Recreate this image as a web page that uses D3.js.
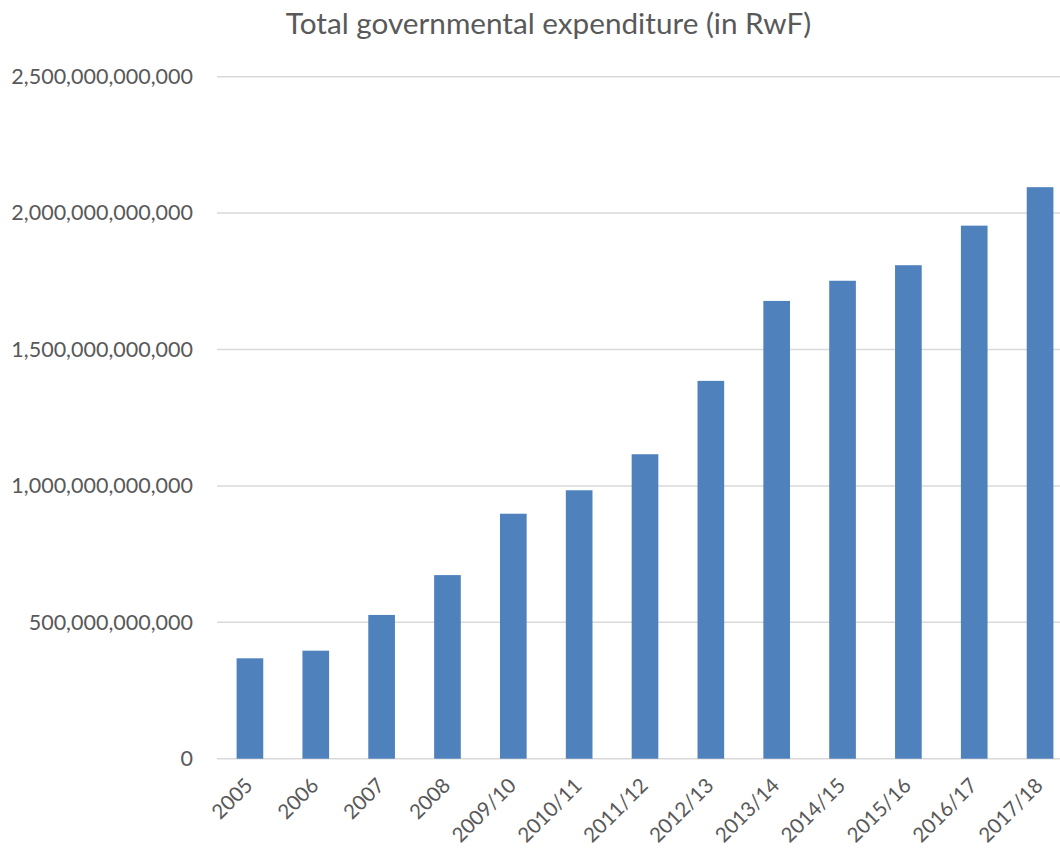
<!DOCTYPE html>
<html>
<head>
<meta charset="utf-8">
<script src="https://cdn.jsdelivr.net/npm/d3@7"></script>
<style>
  html, body { margin: 0; padding: 0; background: #fff; }
  svg { display: block; }
  text { font-family: Lato, "Open Sans", sans-serif; fill: #595959; }
</style>
</head>
<body>
<svg id="chart" width="1060" height="848"></svg>
<script>
const categories = ["2005","2006","2007","2008","2009/10","2010/11","2011/12","2012/13","2013/14","2014/15","2015/16","2016/17","2017/18"];
const expenditure = [368e9, 396e9, 527e9, 673e9, 898e9, 984e9, 1116e9, 1385e9, 1678e9, 1752e9, 1809e9, 1954e9, 2095e9];
const yTicks = [0, 500e9, 1000e9, 1500e9, 2000e9, 2500e9];
const title = "Total governmental expenditure (in RwF)";

(function () {
const svg = d3.select("#chart");
const plotLeft = 217, plotRight = 1073, plotTop = 76.7, plotBottom = 758.7;

const x = d3.scaleBand().domain(categories).range([plotLeft, plotRight]).paddingInner(0.595).paddingOuter(0.2975);
const y = d3.scaleLinear().domain([0, 2500e9]).range([plotBottom, plotTop]);

// gridlines
svg.append("g").selectAll("line").data(yTicks).join("line")
  .attr("x1", plotLeft).attr("x2", 1060)
  .attr("y1", d => y(d)).attr("y2", d => y(d))
  .attr("stroke", "#d9d9d9").attr("stroke-width", 1.5);

// y axis labels
const fmt = d3.format(",.0f");
const yAxis = d3.axisLeft(y).tickValues(yTicks).tickFormat(d => fmt(d)).tickSize(0).tickPadding(0);
const gy = svg.append("g").attr("transform", `translate(193,0)`).call(yAxis);
gy.select(".domain").remove();
gy.selectAll("text").attr("font-size", 21.5).attr("fill", "#595959")
  .style("font-family", "Lato, 'Open Sans', sans-serif");

// bars
svg.append("g").selectAll("rect").data(categories).join("rect")
  .attr("x", d => x(d))
  .attr("width", x.bandwidth())
  .attr("y", (d, i) => y(expenditure[i]))
  .attr("height", (d, i) => y(0) - y(expenditure[i]))
  .attr("fill", "#4f81bd");

// x axis labels
const xAxis = d3.axisBottom(x).tickSize(0).tickPadding(0);
const gx = svg.append("g").attr("transform", `translate(0,${plotBottom})`).call(xAxis);
gx.select(".domain").remove();
gx.selectAll("text")
  .attr("font-size", 20.5).attr("fill", "#595959")
  .style("font-family", "Lato, 'Open Sans', sans-serif")
  .attr("text-anchor", "end")
  .attr("dy", "0.35em")
  .attr("transform", "translate(-1,23) rotate(-45)");

// title
svg.append("text").attr("x", 548.5).attr("y", 34)
  .attr("text-anchor", "middle").attr("font-size", 29.7)
  .text(title);
})();
</script>
</body>
</html>
